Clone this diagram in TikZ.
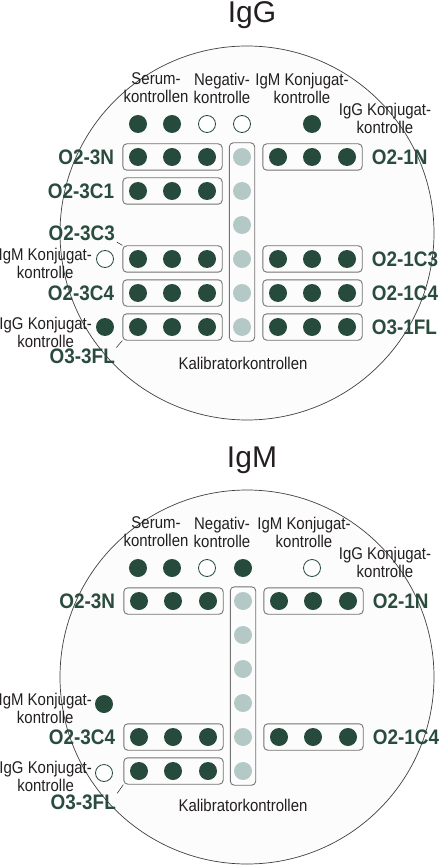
\documentclass[tikz,border=0pt]{standalone}
\usepackage{fontspec}
\setmainfont{Liberation Sans}
\newfontfamily\narrowfont[FakeStretch=0.88]{Liberation Sans}
\newfontfamily\wellfont[FakeStretch=0.9]{Liberation Sans}
\usetikzlibrary{positioning,fit}

\definecolor{wellgreen}{HTML}{264A3C}
\definecolor{calgreen}{HTML}{B4C8C5}
\definecolor{namegreen}{HTML}{2A4C3E}
\definecolor{inkgray}{HTML}{231F20}
\definecolor{discfill}{HTML}{FCFCFC}

\tikzset{
    fulldot/.style={circle, fill=wellgreen, minimum size=18pt, inner sep=0pt},
    opendot/.style={circle, draw=wellgreen, fill=white, line width=0.8pt, minimum size=17pt, inner sep=0pt},
    caldot/.style={circle, fill=calgreen, minimum size=18pt, inner sep=0pt},
    stripbox/.style={draw=black!55, rounded corners=4pt, line width=0.9pt, inner xsep=6pt, inner ysep=4pt},
    calbox/.style={stripbox, inner xsep=3.5pt, inner ysep=5pt},
    wellname/.style={font=\wellfont\fontsize{21}{21}\selectfont\bfseries, text=namegreen, inner sep=0pt},
    ctrltext/.style={font=\narrowfont\fontsize{17}{18}\selectfont, text=inkgray, align=center, inner sep=0pt},
    titletext/.style={font=\fontsize{30}{30}\selectfont, text=inkgray},
    disc/.style={circle, draw=black!75, fill=discfill, line width=0.7pt, minimum size=374pt, inner sep=0pt},
    leader/.style={draw=inkgray, line width=0.5pt, shorten <=2pt}
}

\begin{document}
\begin{tikzpicture}[x=1pt, y=-1pt]
    \useasboundingbox (0,0) rectangle (439,866);

    % IgG plate
    \node[titletext] (g-title) at (252,15) {IgG};
    \node[disc] (g-disc) at (247,233) {};

    % control wells on top
    \node[ctrltext] (g-serum) at (156,88) {Serum-\\kontrollen};
    \node[ctrltext] (g-neg) at (222,88) {Negativ-\\kontrolle};
    \node[ctrltext] (g-igm) at (302,88) {IgM Konjugat-\\kontrolle};
    \node[ctrltext] (g-igg) at (385,118) {IgG Konjugat-\\kontrolle};
    \node[fulldot] (g-s1) at (138,124) {};
    \node[fulldot] (g-s2) at (172,124) {};
    \node[opendot] (g-s3) at (207,124) {};
    \node[opendot] (g-s4) at (242,124) {};
    \node[fulldot] (g-s5) at (312,124) {};

    % calibrator column
    \foreach \r/\y in {1/157,2/191,3/225,4/259,5/293,6/327}
        \node[caldot] (g-k\r) at (242,\y) {};
    \node[calbox, fit=(g-k1)(g-k6)] (g-kbox) {};
    \node[ctrltext] (g-kal) at (243,363) {Kalibratorkontrollen};

    % strips
    \foreach \r/\y in {1/157,2/191,4/259,5/293,6/327} {
        \foreach \c/\x in {1/138,2/172,3/207}
            \node[fulldot] (g-l\r\c) at (\x,\y) {};
        \node[stripbox, fit=(g-l\r1)(g-l\r3)] (g-lbox\r) {};
    }
    \foreach \r/\y in {1/157,4/259,5/293,6/327} {
        \foreach \c/\x in {1/278,2/312,3/347}
            \node[fulldot] (g-r\r\c) at (\x,\y) {};
        \node[stripbox, fit=(g-r\r1)(g-r\r3)] (g-rbox\r) {};
    }

    % strip names
    \node[wellname, left=8pt of g-lbox1] (g-n1) {O2-3N};
    \node[wellname, left=8pt of g-lbox2] (g-n2) {O2-3C1};
    \node[wellname, anchor=south east] (g-n4) at (115,241) {O2-3C3};
    \node[wellname, left=8pt of g-lbox5] (g-n5) {O2-3C4};
    \node[wellname, anchor=north east] (g-n6) at (115,349) {O3-3FL};
    \draw[leader] (g-n4.south east) -- (g-lbox4.north west);
    \draw[leader] (g-n6.north east) -- (g-lbox6.south west);
    \node[wellname, right=9pt of g-rbox1] (g-e1) {O2-1N};
    \node[wellname, right=9pt of g-rbox4] (g-e4) {O2-1C3};
    \node[wellname, right=9pt of g-rbox5] (g-e5) {O2-1C4};
    \node[wellname, right=9pt of g-rbox6] (g-e6) {O3-1FL};

    % conjugate controls at the side
    \node[opendot] (g-xm) at (105,259) {};
    \node[ctrltext, anchor=east] (g-xmlab) at (92,263) {IgM Konjugat-\\kontrolle};
    \node[fulldot] (g-xg) at (105,327) {};
    \node[ctrltext, anchor=east] (g-xglab) at (92,332) {IgG Konjugat-\\kontrolle};

    % IgM plate
    \begin{scope}[yshift=-444pt]
    \node[titletext] (m-title) at (252,16) {IgM};
    \node[disc] (m-disc) at (247,233) {};

    % control wells on top
    \node[ctrltext] (m-serum) at (156,88) {Serum-\\kontrollen};
    \node[ctrltext] (m-neg) at (222,88) {Negativ-\\kontrolle};
    \node[ctrltext] (m-igm) at (304,88) {IgM Konjugat-\\kontrolle};
    \node[ctrltext] (m-igg) at (385,118) {IgG Konjugat-\\kontrolle};
    \node[fulldot] (m-s1) at (138,124) {};
    \node[fulldot] (m-s2) at (172,124) {};
    \node[opendot] (m-s3) at (207,124) {};
    \node[fulldot] (m-s4) at (243,124) {};
    \node[opendot] (m-s5) at (312,124) {};

    % calibrator column
    \foreach \r/\y in {1/157,2/191,3/225,4/259,5/293,6/327}
        \node[caldot] (m-k\r) at (243,\y) {};
    \node[calbox, fit=(m-k1)(m-k6)] (m-kbox) {};
    \node[ctrltext] (m-kal) at (243,361) {Kalibratorkontrollen};

    % strips
    \foreach \r/\y in {1/157,5/293,6/327} {
        \foreach \c/\x in {1/139,2/173,3/208}
            \node[fulldot] (m-l\r\c) at (\x,\y) {};
        \node[stripbox, fit=(m-l\r1)(m-l\r3)] (m-lbox\r) {};
    }
    \foreach \r/\y in {1/157,5/293} {
        \foreach \c/\x in {1/279,2/313,3/348}
            \node[fulldot] (m-r\r\c) at (\x,\y) {};
        \node[stripbox, fit=(m-r\r1)(m-r\r3)] (m-rbox\r) {};
    }

    % strip names
    \node[wellname, left=8pt of m-lbox1] (m-n1) {O2-3N};
    \node[wellname, left=8pt of m-lbox5] (m-n5) {O2-3C4};
    \node[wellname, anchor=north east] (m-n6) at (116,351) {O3-3FL};
    \draw[leader] (m-n6.north east) -- (m-lbox6.south west);
    \node[wellname, right=9pt of m-rbox1] (m-e1) {O2-1N};
    \node[wellname, right=9pt of m-rbox5] (m-e5) {O2-1C4};

    % conjugate controls at the side
    \node[fulldot] (m-xm) at (104,260) {};
    \node[ctrltext, anchor=east] (m-xmlab) at (92,264) {IgM Konjugat-\\kontrolle};
    \node[opendot] (m-xg) at (104,329) {};
    \node[ctrltext, anchor=east] (m-xglab) at (92,332) {IgG Konjugat-\\kontrolle};
    \end{scope}
\end{tikzpicture}
\end{document}
